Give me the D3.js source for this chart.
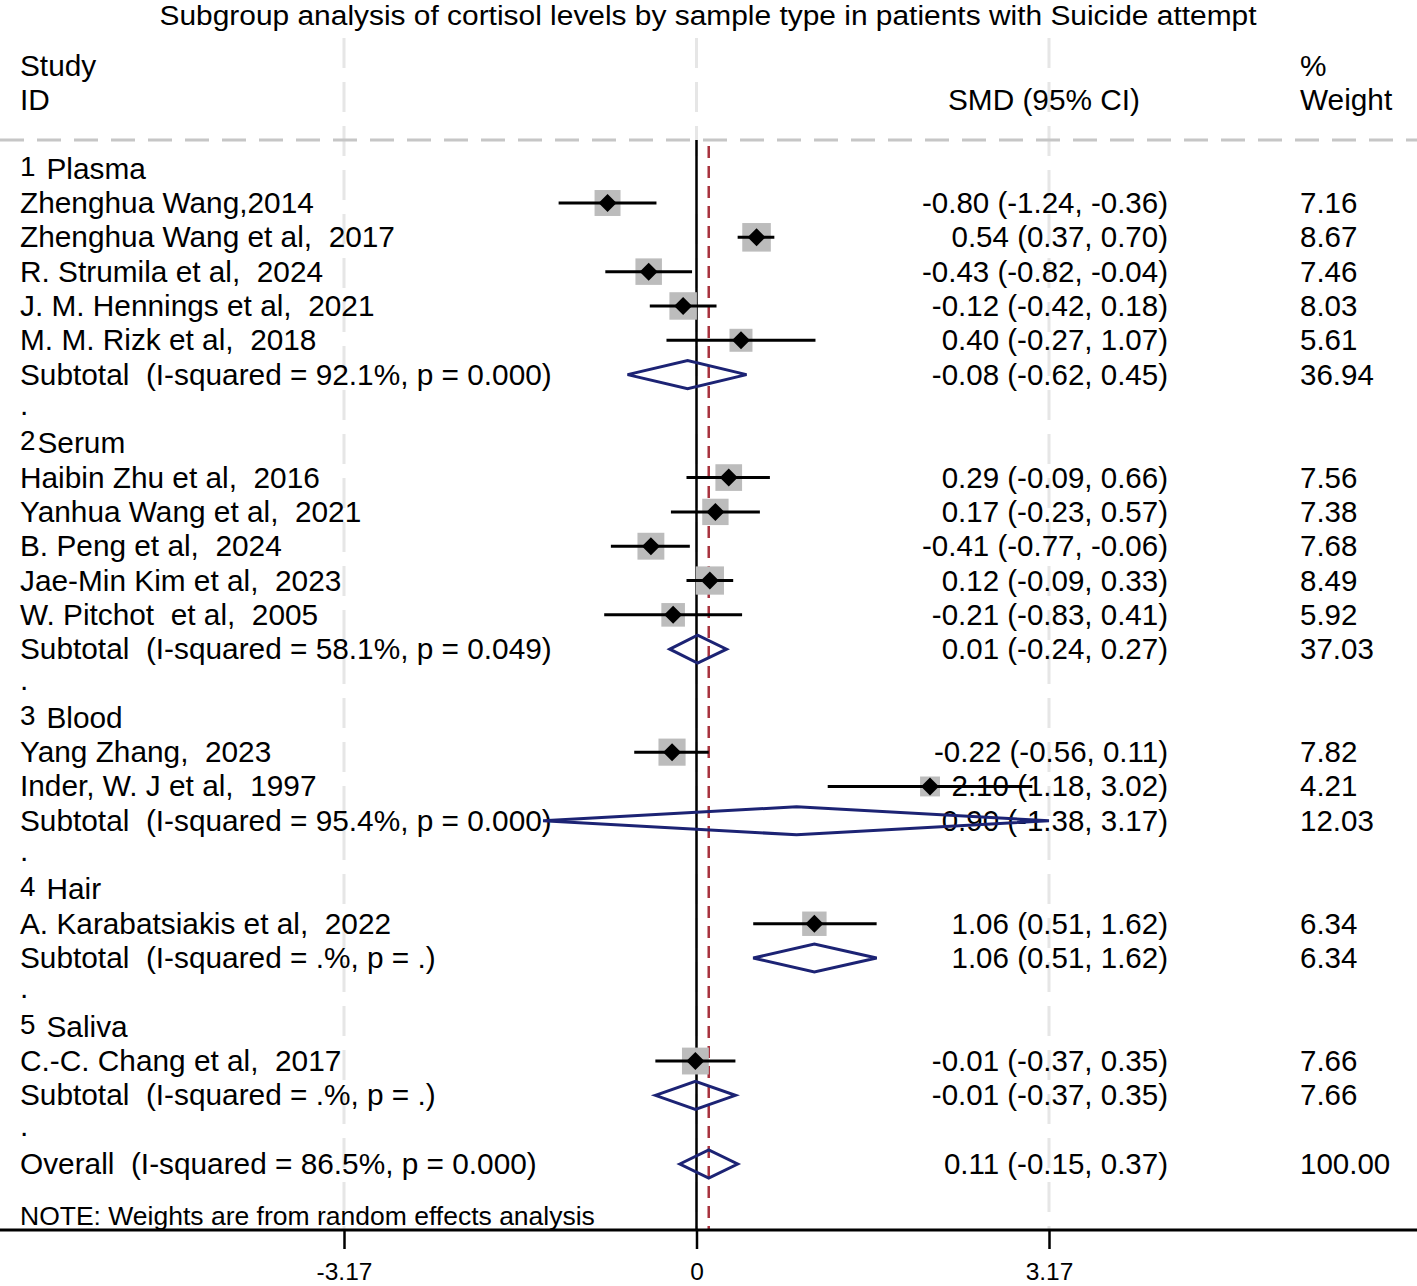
<!DOCTYPE html>
<html>
<head>
<meta charset="utf-8">
<script src="https://cdn.jsdelivr.net/npm/d3@7"></script>
<style>
  body { margin: 0; background: #fff; }
  text { font-family: "Liberation Sans", Arial, Helvetica, sans-serif; white-space: pre; fill: #000; }
</style>
</head>
<body>
<div id="chart"></div>
<script>
// Data
const groups = ["Plasma", "Serum", "Blood", "Hair", "Saliva"];

const studyNames = [
  "Zhenghua Wang,2014", "Zhenghua Wang et al,  2017", "R. Strumila et al,  2024",
  "J. M. Hennings et al,  2021", "M. M. Rizk et al,  2018",
  "Haibin Zhu et al,  2016", "Yanhua Wang et al,  2021", "B. Peng et al,  2024",
  "Jae-Min Kim et al,  2023", "W. Pitchot  et al,  2005",
  "Yang Zhang,  2023", "Inder, W. J et al,  1997",
  "A. Karabatsiakis et al,  2022",
  "C.-C. Chang et al,  2017"
];
const studyGroup = [0, 0, 0, 0, 0, 1, 1, 1, 1, 1, 2, 2, 3, 4];
const studySmd   = [-0.80, 0.54, -0.43, -0.12, 0.40, 0.29, 0.17, -0.41, 0.12, -0.21, -0.22, 2.10, 1.06, -0.01];
const studyLow   = [-1.24, 0.37, -0.82, -0.42, -0.27, -0.09, -0.23, -0.77, -0.09, -0.83, -0.56, 1.18, 0.51, -0.37];
const studyHigh  = [-0.36, 0.70, -0.04, 0.18, 1.07, 0.66, 0.57, -0.06, 0.33, 0.41, 0.11, 3.02, 1.62, 0.35];
const studyWeight = [7.16, 8.67, 7.46, 8.03, 5.61, 7.56, 7.38, 7.68, 8.49, 5.92, 7.82, 4.21, 6.34, 7.66];

const subI2     = ["92.1%", "58.1%", "95.4%", ".%", ".%"];
const subP      = ["0.000", "0.049", "0.000", ".", "."];
const subSmd    = [-0.08, 0.01, 0.90, 1.06, -0.01];
const subLow    = [-0.62, -0.24, -1.38, 0.51, -0.37];
const subHigh   = [0.45, 0.27, 3.17, 1.62, 0.35];
const subWeight = [36.94, 37.03, 12.03, 6.34, 7.66];

const overall = { i2: "86.5%", p: "0.000", smd: 0.11, low: -0.15, high: 0.37, weight: 100.00 };

const xTicks = [-3.17, 0, 3.17];
const xTickLabels = ["-3.17", "0", "3.17"];

const title = "Subgroup analysis of cortisol levels by sample type in patients with Suicide attempt";
const note = "NOTE: Weights are from random effects analysis";

function renderForest() {
  const width = 1417;
  const height = 1286;
  const fs = 29.8;   // label text
  const fsNum = 29.5; // numeric columns

  const svg = d3.select("#chart")
    .append("svg")
    .attr("width", width)
    .attr("height", height);

  // build the row list: group header, studies, subtotal, spacer dot
  const rows = [];
  groups.forEach((g, gi) => {
    rows.push({ type: "header", label: `${gi + 1}`, name: g });
    studyNames.forEach((n, si) => {
      if (studyGroup[si] !== gi) return;
      rows.push({ type: "study", label: n, smd: studySmd[si], low: studyLow[si], high: studyHigh[si], w: studyWeight[si] });
    });
    rows.push({ type: "sub", label: `Subtotal  (I-squared = ${subI2[gi]}, p = ${subP[gi]})`,
      smd: subSmd[gi], low: subLow[gi], high: subHigh[gi], w: subWeight[gi] });
    rows.push({ type: "dot" });
  });
  rows.push({ type: "sub", label: `Overall  (I-squared = ${overall.i2}, p = ${overall.p})`,
    smd: overall.smd, low: overall.low, high: overall.high, w: overall.weight });
  rows.forEach((r, i) => r.i = i);

  const x = d3.scaleLinear().domain([-3.17, 3.17]).range([344, 1049]);
  const y = d3.scaleLinear().domain([1, rows.length - 1]).range([203, 1164]);
  const axisY = 1230;
  const topLine = 140;

  // plain hyphen minus, like the original output
  const fmt = v => v.toFixed(2);

  // faint vertical gridlines
  svg.selectAll("line.grid")
    .data(xTicks)
    .enter().append("line")
    .attr("class", "grid")
    .attr("x1", d => x(d)).attr("x2", d => x(d))
    .attr("y1", 38).attr("y2", axisY)
    .attr("stroke", "#e6e6e6")
    .attr("stroke-width", 3)
    .attr("stroke-dasharray", "30 14");

  // dashed separator under header
  svg.append("line")
    .attr("x1", 0).attr("x2", width)
    .attr("y1", topLine).attr("y2", topLine)
    .attr("stroke", "#c6c6c6")
    .attr("stroke-width", 3)
    .attr("stroke-dasharray", "24 13");

  // title
  svg.append("text")
    .attr("x", 708).attr("y", 25)
    .attr("text-anchor", "middle")
    .attr("font-size", 27)
    .attr("textLength", 1097)
    .attr("lengthAdjust", "spacingAndGlyphs")
    .text(title);

  // column headers
  const hdr = [
    { t: "Study", x: 20, y: 66, a: "start" },
    { t: "ID", x: 20, y: 100, a: "start" },
    { t: "SMD (95% CI)", x: 1140, y: 100, a: "end" },
    { t: "%", x: 1300, y: 66, a: "start" },
    { t: "Weight", x: 1300, y: 100, a: "start" }
  ];
  svg.selectAll("text.hdr")
    .data(hdr)
    .enter().append("text")
    .attr("class", "hdr")
    .attr("x", d => d.x).attr("y", d => d.y + 10)
    .attr("text-anchor", d => d.a)
    .attr("font-size", fs)
    .text(d => d.t);

  // left labels
  const lab = svg.selectAll("text.lab")
    .data(rows)
    .enter().append("text")
    .attr("class", "lab")
    .attr("x", 20)
    .attr("y", d => y(d.i) + 10)
    .attr("font-size", fs);
  lab.filter(d => d.type === "header").each(function(d) {
    const t = d3.select(this);
    t.append("tspan").attr("dy", -3).attr("font-size", fs - 2).text(d.label);
    t.append("tspan").attr("dy", 3).attr("dx", d.label === "2" ? 2 : 11).text(d.name);
  });
  lab.filter(d => d.type === "study" || d.type === "sub").text(d => d.label);
  lab.filter(d => d.type === "dot").attr("y", d => y(d.i) + 6).text(".");

  const est = rows.filter(d => d.type === "study" || d.type === "sub");

  // estimate text
  svg.selectAll("text.est")
    .data(est)
    .enter().append("text")
    .attr("class", "est")
    .attr("x", 1168)
    .attr("y", d => y(d.i) + 10)
    .attr("text-anchor", "end")
    .attr("font-size", fsNum)
    .text(d => `${fmt(d.smd)} (${fmt(d.low)}, ${fmt(d.high)})`);

  // weight text
  svg.selectAll("text.wt")
    .data(est)
    .enter().append("text")
    .attr("class", "wt")
    .attr("x", 1300)
    .attr("y", d => y(d.i) + 10)
    .attr("font-size", fsNum)
    .text(d => fmt(d.w));

  // null line
  svg.append("line")
    .attr("x1", x(0)).attr("x2", x(0))
    .attr("y1", topLine).attr("y2", axisY)
    .attr("stroke", "#000")
    .attr("stroke-width", 2.5);

  // overall effect line
  svg.append("line")
    .attr("x1", x(overall.smd)).attr("x2", x(overall.smd))
    .attr("y1", topLine + 6).attr("y2", axisY)
    .attr("stroke", "#a8323e")
    .attr("stroke-width", 2.5)
    .attr("stroke-dasharray", "12 8");

  const studies = rows.filter(d => d.type === "study");

  // weight squares
  svg.selectAll("rect.box")
    .data(studies)
    .enter().append("rect")
    .attr("class", "box")
    .attr("x", d => x(d.smd) - 4.85 * Math.sqrt(d.w))
    .attr("y", d => y(d.i) - 4.85 * Math.sqrt(d.w))
    .attr("width", d => 9.7 * Math.sqrt(d.w))
    .attr("height", d => 9.7 * Math.sqrt(d.w))
    .attr("fill", "#bcbcbc");

  // confidence intervals
  svg.selectAll("line.ci")
    .data(studies)
    .enter().append("line")
    .attr("class", "ci")
    .attr("x1", d => x(d.low)).attr("x2", d => x(d.high))
    .attr("y1", d => y(d.i)).attr("y2", d => y(d.i))
    .attr("stroke", "#000")
    .attr("stroke-width", 3);

  // point estimates
  svg.selectAll("path.pt")
    .data(studies)
    .enter().append("path")
    .attr("class", "pt")
    .attr("d", d => {
      const cx = x(d.smd), cy = y(d.i), s = 9;
      return `M${cx - s},${cy}L${cx},${cy - s}L${cx + s},${cy}L${cx},${cy + s}Z`;
    })
    .attr("fill", "#000");

  // pooled diamonds
  svg.selectAll("path.dia")
    .data(rows.filter(d => d.type === "sub"))
    .enter().append("path")
    .attr("class", "dia")
    .attr("d", d => {
      const cy = y(d.i), h = 14;
      return `M${x(d.low)},${cy}L${x(d.smd)},${cy - h}L${x(d.high)},${cy}L${x(d.smd)},${cy + h}Z`;
    })
    .attr("fill", "none")
    .attr("stroke", "#1c2374")
    .attr("stroke-width", 3);

  // note
  svg.append("text")
    .attr("x", 20).attr("y", 1225)
    .attr("font-size", 26.5)
    .text(note);

  // bottom axis
  svg.append("line")
    .attr("x1", 0).attr("x2", width)
    .attr("y1", axisY).attr("y2", axisY)
    .attr("stroke", "#000")
    .attr("stroke-width", 3);

  const axis = d3.axisBottom(x)
    .tickValues(xTicks)
    .tickFormat((d, i) => xTickLabels[i])
    .tickSize(19)
    .tickPadding(14);

  const ax = svg.append("g")
    .attr("transform", `translate(0,${axisY})`)
    .call(axis);
  ax.select(".domain").remove();
  ax.selectAll(".tick line").attr("stroke", "#000").attr("stroke-width", 2.5);
  ax.selectAll(".tick text")
    .attr("font-size", 24.5)
    .attr("font-family", "Liberation Sans, Arial, sans-serif")
    .attr("fill", "#000");
}

renderForest();
</script>
</body>
</html>
